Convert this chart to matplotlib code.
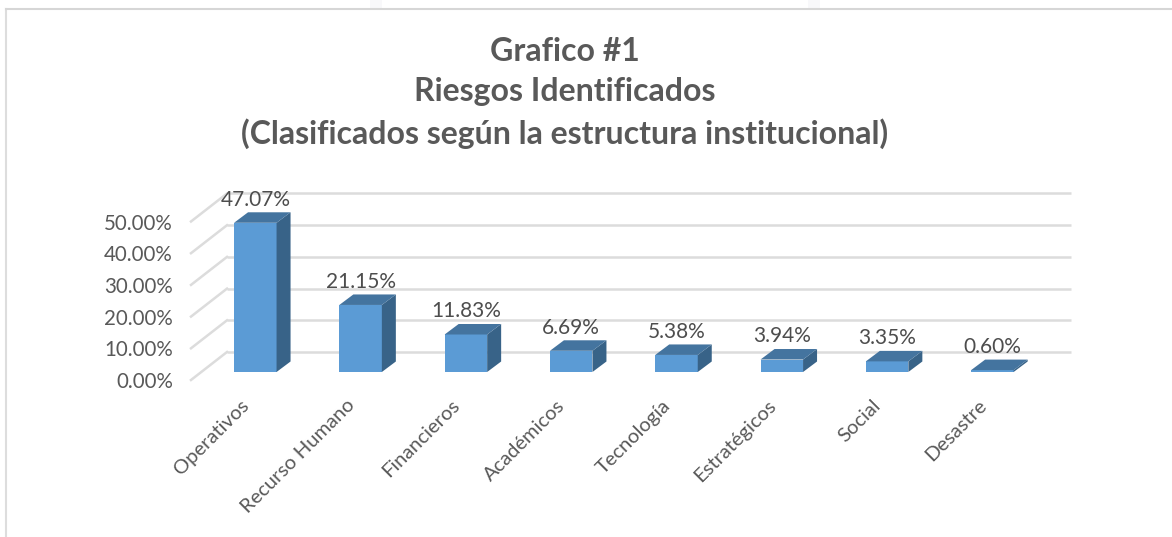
import matplotlib
matplotlib.use("Agg")
import matplotlib.pyplot as plt
from matplotlib.patches import Polygon, Rectangle
from matplotlib.lines import Line2D
from matplotlib.transforms import ScaledTranslation

plt.rcParams['font.family'] = ['Lato', 'DejaVu Sans']

categorias = ['Operativos', 'Recurso Humano', 'Financieros', 'Académicos',
              'Tecnología', 'Estratégicos', 'Social', 'Desastre']
valores = [47.07, 21.15, 11.83, 6.69, 5.38, 3.94, 3.35, 0.60]
etiquetas = ['47.07%', '21.15%', '11.83%', '6.69%', '5.38%', '3.94%', '3.35%', '0.60%']
ticks_y = [0, 10, 20, 30, 40, 50]
ticks_lbl = ['0.00%', '10.00%', '20.00%', '30.00%', '40.00%', '50.00%']

W, H = 1172, 537
GRIS = '#595959'
GRID = '#DCDCDC'

# escala: pixeles por categoria y por punto porcentual
px_x = 105.3
px_y = 3.17
x0 = 255.3   # centro de la primera barra
y0 = 372     # base de las barras

fig = plt.figure(figsize=(W / 100, H / 100), dpi=100, facecolor='white')

# marco de la captura
fig.add_artist(Rectangle((370 / W, 1 - 9 / H), 12 / W, 9 / H, color='#F8F8FA', lw=0))
fig.add_artist(Rectangle((808 / W, 1 - 9 / H), 12 / W, 9 / H, color='#F8F8FA', lw=0))
fig.add_artist(Line2D([6 / W, 6 / W], [0, 1 - 9 / H], color='#DDDDDD', lw=1.5))
fig.add_artist(Line2D([6 / W, 1], [1 - 9 / H, 1 - 9 / H], color='#D6D6D6', lw=1.5))

# ejes: del plano frontal izquierdo hasta el final de la pared del fondo
izq, der, abajo, arriba = 191, 1071, 380, 194
ax = fig.add_axes([izq / W, 1 - abajo / H, (der - izq) / W, (abajo - arriba) / H])
ax.set_xlim((izq - x0) / px_x, (der - x0) / px_x)
ax.set_ylim((y0 - abajo) / px_y, (y0 - arriba) / px_y)
ax.patch.set_alpha(0)
for s in ax.spines.values():
    s.set_visible(False)

prof_front = (abajo - y0) / px_y     # cuanto baja el frente del piso
prof_back = 20 / px_y                # cuanto sube la pared del fondo
dx_pared = 36 / px_x
xmin = ax.get_xlim()[0]
xmax = ax.get_xlim()[1]

# lineas de la pared y del costado
for v in ticks_y:
    ax.plot([xmin + dx_pared, xmax], [v + prof_back] * 2, color=GRID, lw=1.8, zorder=1,
            solid_capstyle='butt', clip_on=False)
    ax.plot([xmin, xmin + dx_pared], [v - prof_front, v + prof_back], color=GRID, lw=1.8,
            zorder=1, clip_on=False)

# barras en falso 3d
ancho = 42.5 / px_x
dx = 14 / px_x
dy = 10.5 / px_y
xs = list(range(len(valores)))
ax.bar(xs, valores, width=ancho, color='#5B9BD5', zorder=3)
for x, v in zip(xs, valores):
    l, r = x - ancho / 2, x + ancho / 2
    ax.add_patch(Polygon([(r, 0), (r + dx, dy), (r + dx, v + dy), (r, v)],
                         facecolor='#386388', edgecolor='none', zorder=3, clip_on=False))
    ax.add_patch(Polygon([(l, v), (l + dx, v + dy), (r + dx, v + dy), (r, v)],
                         facecolor='#44749F', edgecolor='none', zorder=4, clip_on=False))

for x, v, t in zip(xs, valores, etiquetas):
    ax.text(x, v + 5.4, t, ha='center', va='baseline', fontsize=15, color='#4D4D4D',
            zorder=5, clip_on=False)

ax.set_yticks([v - prof_front for v in ticks_y], ticks_lbl)
ax.tick_params(axis='y', length=0, pad=13, labelsize=14.8, labelcolor=GRIS)
ax.set_xticks(xs, categorias)
ax.tick_params(axis='x', length=0, pad=12, labelsize=14.5, labelcolor=GRIS)
corrimiento = ScaledTranslation(-15 / 100, 0, fig.dpi_scale_trans)
for lb in ax.get_xticklabels():
    lb.set_rotation(45)
    lb.set_ha('right')
    lb.set_rotation_mode('anchor')
    lb.set_transform(lb.get_transform() + corrimiento)

fig.text(565 / W, 1 - 93 / H,
         'Grafico #1\nRiesgos Identificados\n(Clasificados según la estructura institucional)',
         ha='center', va='center', fontsize=23, fontweight='bold', color=GRIS, linespacing=1.47)

fig.savefig('out.png', dpi=100, facecolor='white')
